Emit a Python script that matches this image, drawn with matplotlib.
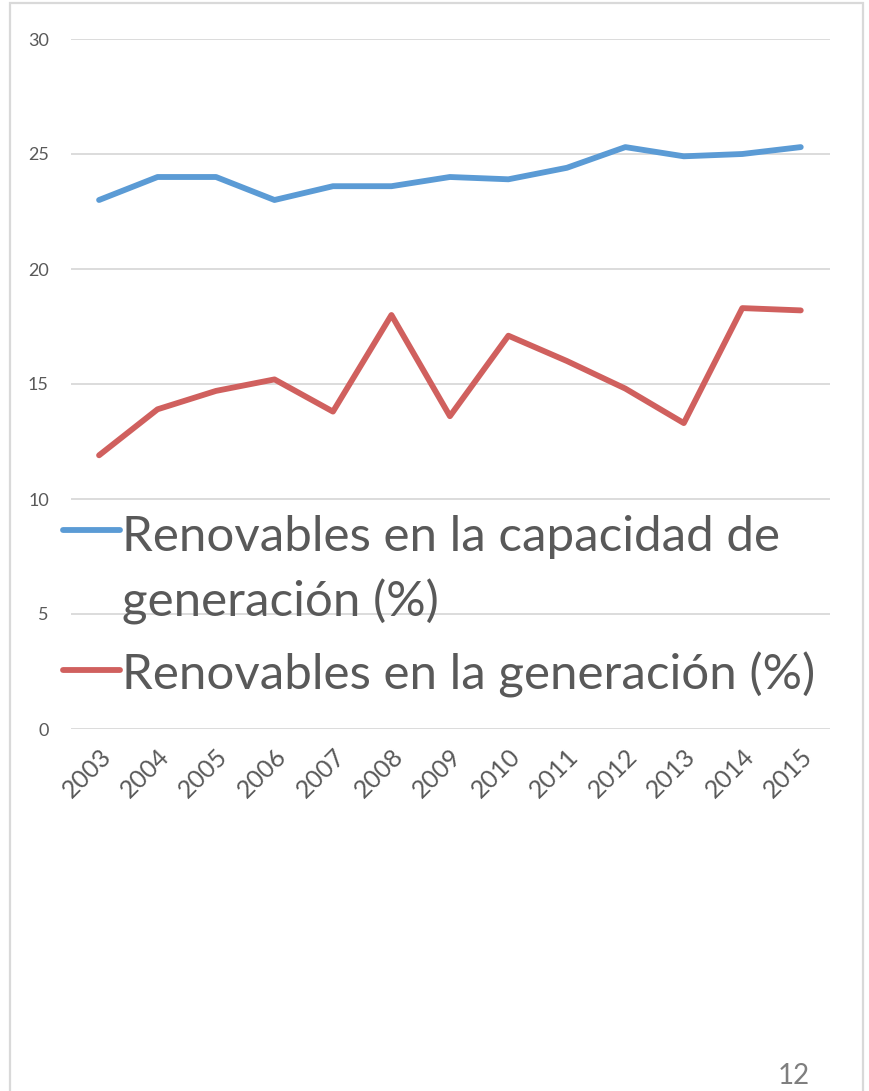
import matplotlib
matplotlib.use("Agg")
import matplotlib.pyplot as plt
from matplotlib.lines import Line2D
from matplotlib.patches import Rectangle

plt.rcParams['font.family'] = ['Lato', 'DejaVu Sans']

years = ['2003', '2004', '2005', '2006', '2007', '2008', '2009', '2010',
         '2011', '2012', '2013', '2014', '2015']
capacidad = [23.0, 24.0, 24.0, 23.0, 23.6, 23.6, 24.0, 23.9, 24.4, 25.3, 24.9, 25.0, 25.3]
generacion = [11.9, 13.9, 14.7, 15.2, 13.8, 18.0, 13.6, 17.1, 16.0, 14.8, 13.3, 18.3, 18.2]
label_cap = "Renovables en la capacidad de\ngeneración (%)"
label_gen = "Renovables en la generación (%)"
yticks = [0, 5, 10, 15, 20, 25, 30]

W, H = 869, 1091
fig = plt.figure(figsize=(W / 100, H / 100), dpi=100)

def fx(px):
    return px / W

def fy(py):
    return 1 - py / H

# page frame
fig.add_artist(Rectangle((fx(10), fy(1200)), fx(863) - fx(10), fy(3) - fy(1200),
                         transform=fig.transFigure, fill=False,
                         edgecolor='#D9D9D9', lw=1.6, clip_on=False))

ax = fig.add_axes([fx(71), fy(729), fx(830) - fx(71), fy(39) - fy(729)])
x = list(range(len(years)))
blue = '#5B9BD5'
red = '#D0605E'
ax.plot(x, capacidad, color=blue, lw=4.2, solid_capstyle='round', solid_joinstyle='round')
ax.plot(x, generacion, color=red, lw=4.2, solid_capstyle='round', solid_joinstyle='round')
ax.set_xlim(-0.48, len(years) - 0.5)
ax.set_ylim(0, 30)
ax.set_yticks(yticks)
ax.set_yticklabels([str(v) for v in yticks], fontsize=13, color='#595959')
ax.set_xticks(x)
ax.set_xticklabels(years, rotation=45, fontsize=18, color='#595959',
                   ha='right', va='top', rotation_mode='anchor')
ax.tick_params(axis='both', length=0)
ax.tick_params(axis='y', pad=16)
ax.tick_params(axis='x', pad=11)
ax.grid(axis='y', color='#D9D9D9', lw=1.3)
ax.set_axisbelow(True)
for s in ax.spines.values():
    s.set_visible(False)

# legend (manual placement, overlapping the plot like the original)
fig.add_artist(Line2D([fx(63), fx(120)], [fy(530), fy(530)], color=blue, lw=4.2,
                      solid_capstyle='round', transform=fig.transFigure))
fig.add_artist(Line2D([fx(63), fx(120)], [fy(670), fy(670)], color=red, lw=4.2,
                      solid_capstyle='round', transform=fig.transFigure))
fig.text(fx(122), fy(537), label_cap.split('\n')[0], fontsize=35.5, color='#595959',
         va='center', ha='left')
fig.text(fx(122), fy(602), label_cap.split('\n')[1], fontsize=35.5, color='#595959',
         va='center', ha='left')
fig.text(fx(122), fy(675), label_gen, fontsize=35.5, color='#595959',
         va='center', ha='left')

# page number
fig.text(fx(778), fy(1063), '12', fontsize=20, color='#7F7F7F', va='top', ha='left')

fig.savefig('out.png', dpi=100)
